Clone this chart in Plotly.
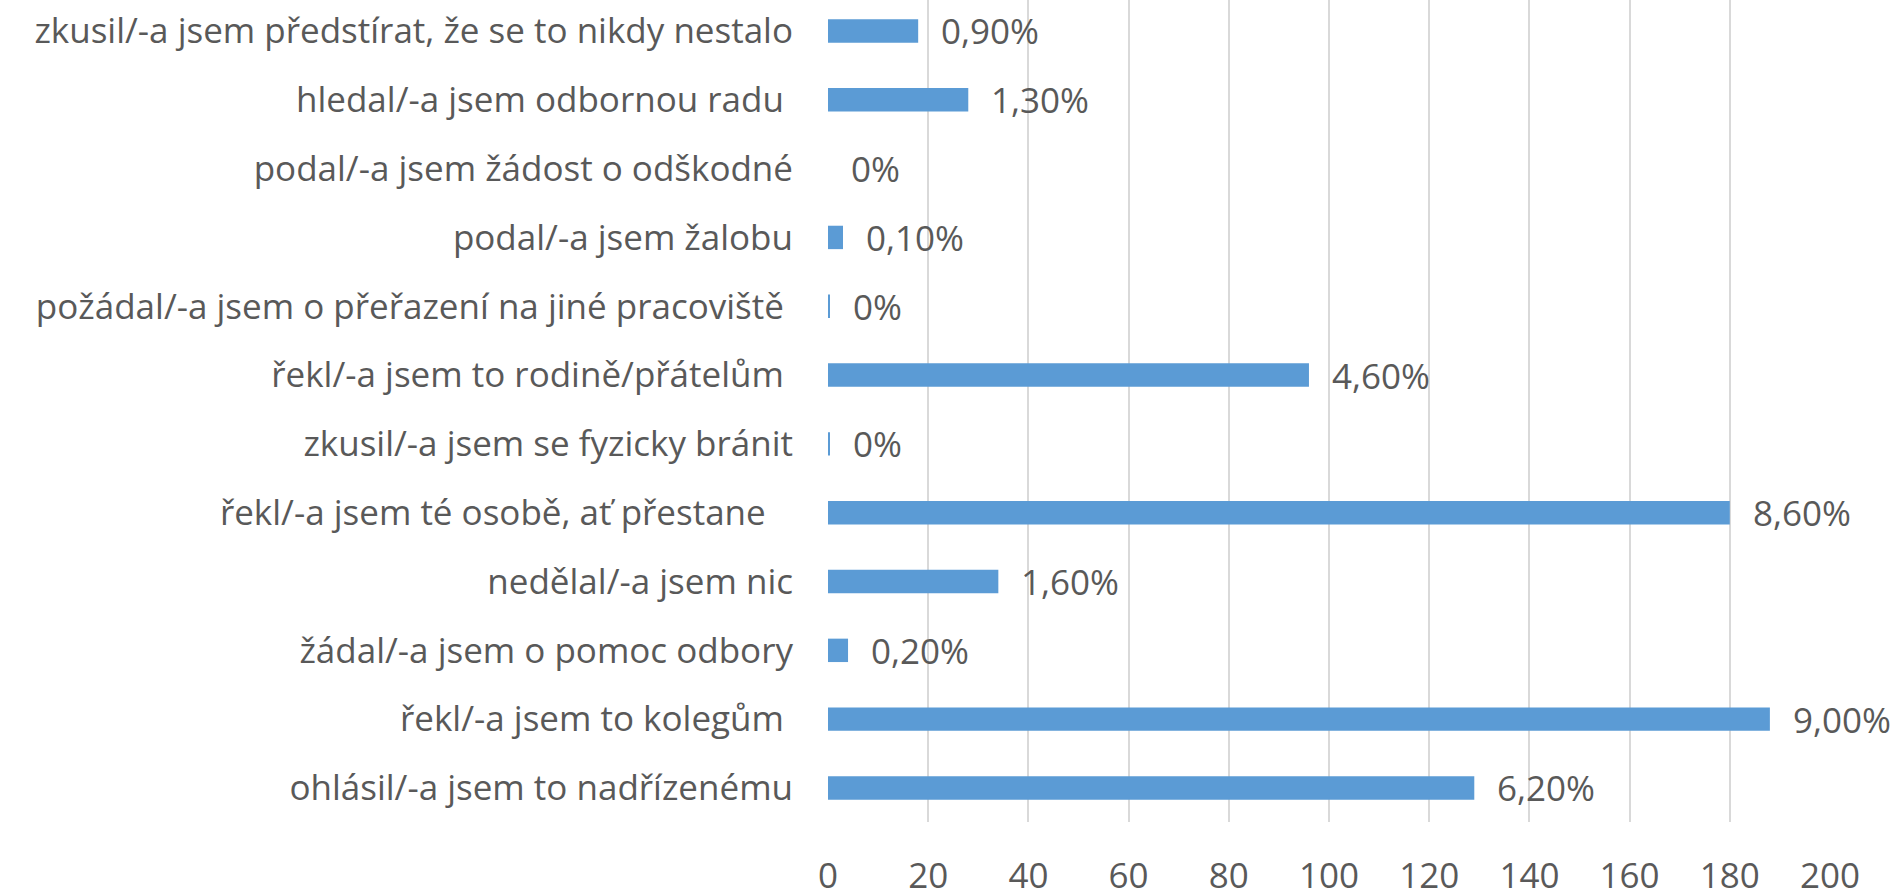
import plotly.graph_objects as go

categories = [
    "zkusil/-a jsem předstírat, že se to nikdy nestalo",
    "hledal/-a jsem odbornou radu\u00a0",
    "podal/-a jsem žádost o odškodné",
    "podal/-a jsem žalobu",
    "požádal/-a jsem o přeřazení na jiné pracoviště\u00a0",
    "řekl/-a jsem to rodině/přátelům\u00a0",
    "zkusil/-a jsem se fyzicky bránit",
    "řekl/-a jsem té osobě, ať přestane\u00a0\u00a0\u00a0",
    "nedělal/-a jsem nic",
    "žádal/-a jsem o pomoc odbory",
    "řekl/-a jsem to kolegům\u00a0",
    "ohlásil/-a jsem to nadřízenému",
]
values = [18, 28, 0, 3, 0.4, 96, 0.4, 180, 34, 4, 188, 129]
labels = ["0,90%", "1,30%", "0%", "0,10%", "0%", "4,60%", "0%", "8,60%", "1,60%", "0,20%", "9,00%", "6,20%"]
x_ticks = [0, 20, 40, 60, 80, 100, 120, 140, 160, 180, 200]

FONT = "'Open Sans', 'Noto Sans', sans-serif"
TXT = "#595959"
FS = 35

fig = go.Figure()
fig.add_trace(go.Bar(
    y=categories, x=values, orientation="h",
    marker=dict(color="#5B9BD5", line=dict(width=0)),
    width=0.34, hoverinfo="skip",
))

for c, v, t in zip(categories, values, labels):
    fig.add_annotation(
        x=v, y=c, text=t, showarrow=False, xanchor="left", yanchor="middle",
        xshift=21, font=dict(family=FONT, size=FS, color=TXT),
    )

fig.update_layout(
    width=1901, height=892,
    margin=dict(l=0, r=0, t=0, b=0, pad=0),
    paper_bgcolor="white", plot_bgcolor="white",
    showlegend=False,
    font=dict(family=FONT, size=FS, color=TXT),
    xaxis=dict(
        domain=[828 / 1901, 1830 / 1901],
        range=[0, 200], tickvals=x_ticks,
        showgrid=True, gridcolor="#D9D9D9", gridwidth=2,
        zeroline=False, showline=False, ticks="",
        automargin=False,
        ticklabelstandoff=30,
        tickfont=dict(family=FONT, size=FS, color=TXT),
    ),
    yaxis=dict(
        domain=[(892 - 822.4) / 892, 1],
        type="category",
        categoryorder="array", categoryarray=categories,
        range=[11.5, -0.45],
        showgrid=False, zeroline=False, showline=False, ticks="",
        automargin=False,
        ticklabelstandoff=34,
        tickfont=dict(family=FONT, size=FS, color=TXT),
    ),
)

fig.write_html(
    "out.html",
    config={"displayModeBar": False},
    post_script="document.body.style.margin='0';document.body.style.overflow='hidden';",
)
